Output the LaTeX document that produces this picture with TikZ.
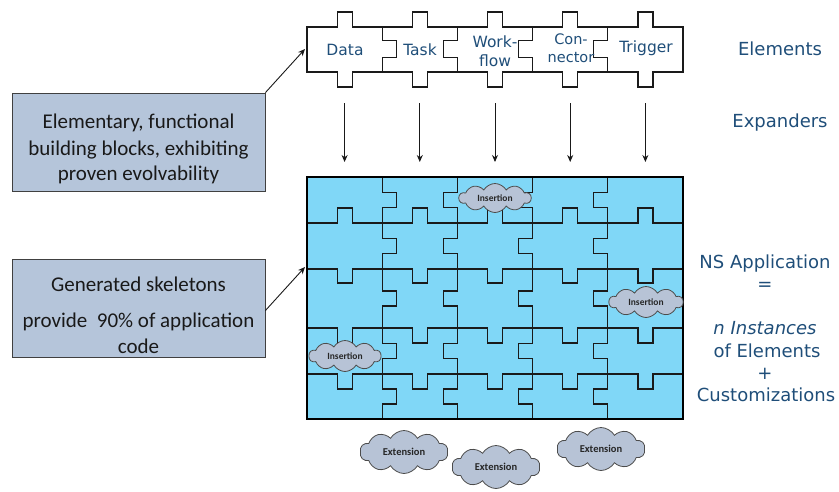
\documentclass[tikz,border=0pt]{standalone}
\usepackage{fontspec}
\setmainfont{DejaVu Sans}
\newfontfamily\carl{Carlito}
\usetikzlibrary{shapes.symbols,arrows.meta}
\definecolor{nsblue}{HTML}{1F4E79}
\definecolor{gridfill}{HTML}{80D7F7}
\definecolor{boxfill}{HTML}{B5C5DA}
\definecolor{cloudfill}{HTML}{B7C3D6}
\definecolor{edge}{HTML}{1A1A1A}
\tikzset{
  pzl/.style={draw=edge, line width=1.2pt, line join=miter},
  lbl/.style={text=nsblue, font=\fontsize{15.5}{19}\selectfont, align=center, inner sep=0},
  rlbl/.style={text=nsblue, font=\fontsize{18}{22}\selectfont, inner sep=0, anchor=base},
  infobox/.style={draw=black!75, line width=0.9pt, fill=boxfill, minimum width=253pt, inner sep=0},
  boxtxt/.style={font=\carl\fontsize{21}{25}\selectfont, text=black!90, inner sep=0, anchor=base},
  cloudy/.style={cloud, cloud puffs=10, cloud puff arc=120, aspect=2.4, draw=black!70, line width=0.8pt, fill=cloudfill, inner sep=0, text=black!85},
  insfont/.style={font=\carl\bfseries\fontsize{9.5}{10}\selectfont},
  extfont/.style={font=\carl\bfseries\fontsize{10.5}{11}\selectfont},
  arr/.style={-{Stealth[length=7pt,width=6pt]}, line width=0.9pt, draw=black!90},
}
\begin{document}
\begin{tikzpicture}[x=1pt,y=-1pt]
\useasboundingbox (0,0) rectangle (839,491);
% ---- top row of element pieces
\path[pzl, fill=white] (307,27)
  \foreach \i in {0,...,4} { -- ({307+75.2*\i+30.1},27) -- ++(0,-15) -- ++(15,0) -- ++(0,15) }
  -- (683,27) -- (683,72)
  \foreach \i in {4,...,0} { -- ({307+75.2*\i+45.1},72) -- ++(0,15) -- ++(-15,0) -- ++(0,-15) }
  -- (307,72) -- cycle;
\foreach \i/\d in {1/14,2/-14,3/-14,4/-14} {
  \pgfmathsetmacro\xx{307+75.2*\i}
  \draw[pzl] (\xx,27) -- (\xx,40.5) -- ++(\d,0) -- ++(0,17) -- (\xx,57.5) -- (\xx,72);
}
\node[lbl] (data) at (345,50) {Data};
\node[lbl] (task) at (420,50) {Task};
\node[lbl] (wf) at (495,51.5) {Work-\\flow};
\node[lbl, font=\fontsize{14.5}{18}\selectfont] (con) at (571,48) {Con-\\nector};
\node[lbl] (trig) at (646,48) {Trigger};
% ---- expander arrows
\foreach \i [count=\k] in {0,...,4} {
  \pgfmathsetmacro\xx{307+75.2*\i+37.6}
  \coordinate (e\k) at (\xx,103);
  \coordinate (g\k) at (\xx,162);
  \draw[arr] (e\k) -- (g\k);
}
% ---- application grid
\fill[gridfill] (307,177) rectangle (683,419);
\foreach \y/\b/\nb in {223/-15/15,269/14/-14,328/15/-15,374/15/-15} {
  \draw[pzl] (307,\y)
    \foreach \i in {0,...,4} { -- ({307+75.2*\i+30.1},\y) -- ++(0,\b) -- ++(15,0) -- ++(0,\nb) }
    -- (683,\y);
}
\foreach \i/\d in {1/14,2/-14,3/-14,4/-14} {
  \pgfmathsetmacro\xx{307+75.2*\i}
  \draw[pzl] (\xx,177)
    \foreach \ra/\rb in {177/223,223/269,269/328,328/374,374/419} {
      -- (\xx,{(\ra+\rb)/2-7.5}) -- ++(\d,0) -- ++(0,15) -- (\xx,{(\ra+\rb)/2+7.5}) }
    -- (\xx,419);
}
\draw[line width=1.8pt, draw=black] (307,177) rectangle (683,419);
\coordinate (gridtl) at (305,49);
\coordinate (gridml) at (305,267);
% ---- clouds
\node[cloudy, insfont, minimum width=72pt, minimum height=29pt] (ins1) at (495,198) {Insertion};
\node[cloudy, insfont, minimum width=74pt, minimum height=31pt] (ins2) at (646,302) {Insertion};
\node[cloudy, insfont, minimum width=72pt, minimum height=31pt] (ins3) at (345,356) {Insertion};
\node[cloudy, extfont, minimum width=88pt, minimum height=43pt] (ext1) at (404,452) {Extension};
\node[cloudy, extfont, minimum width=88pt, minimum height=43pt] (ext2) at (496,467) {Extension};
\node[cloudy, extfont, minimum width=88pt, minimum height=43pt] (ext3) at (601,449) {Extension};
% ---- left info boxes
\node[infobox, minimum height=98pt] (box1) at (138.5,142) {};
\node[boxtxt] (b1a) at (138.5,128) {Elementary, functional};
\node[boxtxt] (b1b) at (138.5,155) {building blocks, exhibiting};
\node[boxtxt] (b1c) at (138.5,180) {proven evolvability};
\node[infobox, minimum height=98pt] (box2) at (138.5,308.5) {};
\node[boxtxt] (b2a) at (138.5,291) {Generated skeletons};
\node[boxtxt] (b2b) at (138.5,327) {provide\ \ 90\% of application};
\node[boxtxt] (b2c) at (138.5,353) {code};
\draw[arr] (box1.north east) -- (gridtl);
\draw[arr] ([yshift=-2pt]box2.east) -- (gridml);
% ---- right labels
\node[rlbl] (r1) at (780,55) {Elements};
\node[rlbl] (r2) at (780,127) {Expanders};
\node[rlbl] (r3) at (765,268) {NS Application};
\node[rlbl] (r4) at (765,290) {=};
\node[rlbl] (r5) at (765,334) {\itshape n Instances};
\node[rlbl] (r6) at (767,357) {of Elements};
\node[rlbl] (r7) at (765,379) {+};
\node[rlbl] (r8) at (766,401) {Customizations};
\end{tikzpicture}
\end{document}
